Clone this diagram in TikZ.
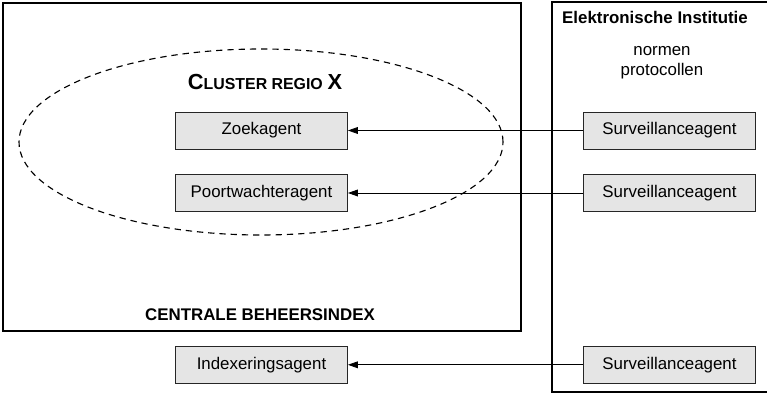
\documentclass[tikz,border=0pt]{standalone}
\usepackage{fontspec}
\setmainfont{Liberation Sans}
\usetikzlibrary{arrows.meta}

\begin{document}
\begin{tikzpicture}[
  font=\fontsize{12}{14.5}\selectfont,
  agent/.style={draw=black!85, line width=0.6pt, fill=black!10,
    minimum width=4.3cm, minimum height=0.925cm, inner sep=0pt},
  frame/.style={line width=1pt},
  link/.style={-{Triangle[length=2.5mm,width=1.7mm]}, line width=0.6pt}]
\useasboundingbox (0,0) rectangle (19.175,9.85);
% the frames and the cluster
  \draw[frame] (0.075,1.575) rectangle (13.025,9.775);
  \draw[frame] (19.4,9.8) -- (13.8,9.8) -- (13.8,0.05) -- (19.4,0.05);
  \draw[dashed, dash pattern=on 4.5pt off 3.5pt, line width=0.8pt]
    (6.525,6.3) ellipse (6.05 and 2.325);
% agents
  \node[agent] (zoek) at (6.5375,6.5875) {Zoekagent};
  \node[agent] (poort) at (6.5375,5.025) {Poortwachteragent};
  \node[agent] (index) at (6.5375,0.73) {Indexeringsagent};
  \node[agent] (surv1) at (16.7375,6.5875) {Surveillanceagent};
  \node[agent] (surv2) at (16.7375,5.025) {Surveillanceagent};
  \node[agent] (surv3) at (16.7375,0.73) {Surveillanceagent};
% arrows
  \draw[link] (surv1) -- (zoek);
  \draw[link] (surv2) -- (poort);
  \draw[link] (surv3) -- (index);
% labels
  \node (cluster) at (6.625,7.8) {\bfseries{\fontsize{15.5}{17}\selectfont C}{\fontsize{11.3}{13}\selectfont LUSTER REGIO} {\fontsize{15.5}{17}\selectfont X}};
  \node (cbi) at (6.5,1.975) {\bfseries CENTRALE BEHEERSINDEX};
  \node (ei) at (16.375,9.425) {\bfseries Elektronische Institutie};
  \node[align=center] (norm) at (16.55,8.275) {normen\\protocollen};
\end{tikzpicture}
\end{document}
